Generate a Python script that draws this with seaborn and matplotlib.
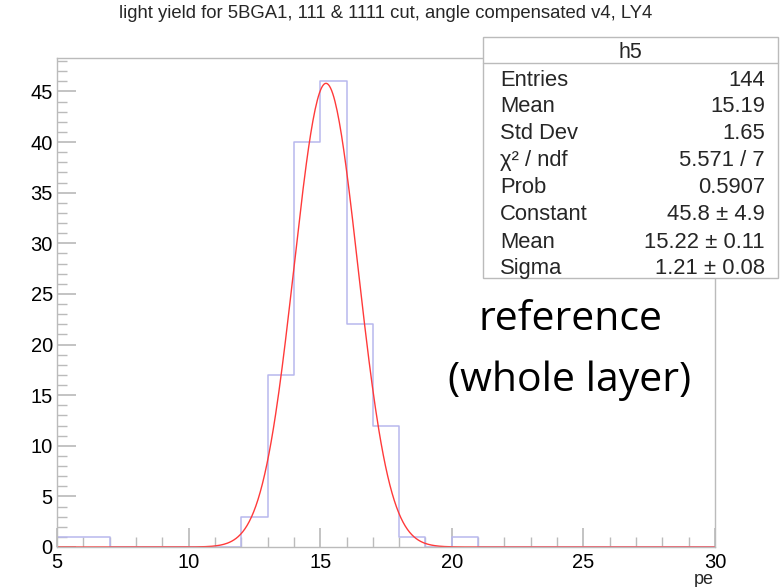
import numpy as np
import pandas as pd
import matplotlib
matplotlib.use("Agg")
import matplotlib.pyplot as plt
import seaborn as sns
from matplotlib.ticker import MultipleLocator

# ---- data ----
bin_edges = list(range(5, 31))
counts = [1, 1, 0, 0, 0, 0, 0, 3, 17, 40, 46, 22, 12, 1, 0, 1,
          0, 0, 0, 0, 0, 0, 0, 0, 0]
fit_constant = 45.8
fit_mean = 15.22
fit_sigma = 1.21
stat_labels = ["Entries", "Mean", "Std Dev", "χ² / ndf", "Prob",
               "Constant", "Mean", "Sigma"]
stat_values = ["144", "15.19", "1.65", "5.571 / 7", "0.5907",
               "45.8 ± 4.9", "15.22 ± 0.11", "1.21 ± 0.08"]
title = "light yield for 5BGA1, 111 & 1111 cut, angle compensated v4, LY4"

sns.set_theme(style="white")
plt.rcParams['font.family'] = ['Liberation Sans', 'DejaVu Sans']

W, H = 781, 587
fig = plt.figure(figsize=(W / 100, H / 100), dpi=100)
ax = fig.add_axes([57 / W, 1 - 547 / H, (715 - 57) / W, (547 - 58) / H])

centers = [(bin_edges[i] + bin_edges[i + 1]) / 2 for i in range(len(counts))]
df = pd.DataFrame({"pe": centers, "n": counts})
sns.histplot(data=df, x="pe", weights="n", bins=bin_edges, element="step",
             fill=False, color="#b8b8ee", linewidth=1.1, ax=ax)

xf = np.linspace(5, 30, 600)
yf = fit_constant * np.exp(-0.5 * ((xf - fit_mean) / fit_sigma) ** 2)
sns.lineplot(x=xf, y=yf, color="#ff3a3a", linewidth=1.0, ax=ax)

ax.set_xlim(5, 30)
ax.set_ylim(0, 48.3)
ax.set_xlabel("")
ax.set_ylabel("")
ax.xaxis.set_major_locator(MultipleLocator(5))
ax.xaxis.set_minor_locator(MultipleLocator(1))
ax.yaxis.set_major_locator(MultipleLocator(5))
ax.yaxis.set_minor_locator(MultipleLocator(1))
ax.tick_params(axis="both", which="major", direction="in", length=14,
               color="#bbbbbb", labelsize=14.5, labelcolor="black")
ax.tick_params(axis="both", which="minor", direction="in", length=7,
               color="#bbbbbb")
ax.tick_params(axis="x", which="both", top=False, bottom=True, pad=4)
ax.tick_params(axis="y", which="both", left=True, right=False, pad=3)
for s in ax.spines.values():
    s.set_color("#bbbbbb")
    s.set_linewidth(1.0)
fig.text(704 / W, 1 - 579 / H, "pe", ha="center", va="center", fontsize=13)

fig.text(386 / W, 1 - 14 / H, title, ha="center", va="center", fontsize=13.3)

# stats box
bx0, bx1, by0, by1, byh = 483, 778, 37, 278, 63
box = plt.Rectangle((bx0 / W, 1 - by1 / H), (bx1 - bx0) / W, (by1 - by0) / H,
                    transform=fig.transFigure, facecolor="white",
                    edgecolor="#bbbbbb", linewidth=1.0, zorder=5)
fig.add_artist(box)
fig.add_artist(plt.Line2D([bx0 / W, bx1 / W], [1 - byh / H, 1 - byh / H],
                          transform=fig.transFigure, color="#bbbbbb",
                          linewidth=1.0, zorder=6))
fig.text((bx0 + bx1) / 2 / W, 1 - 50 / H, "h5", ha="center",
         va="center_baseline", fontsize=15.5, zorder=7)
row_y = [78, 104, 131, 158, 185, 212, 240, 266]
for lab, val, yy in zip(stat_labels, stat_values, row_y):
    fig.text(500 / W, 1 - yy / H, lab, ha="left", va="center_baseline",
             fontsize=15.8, zorder=7)
    fig.text(765 / W, 1 - yy / H, val, ha="right", va="center_baseline",
             fontsize=15.8, zorder=7)

fig.text(570 / W, 1 - 320 / H, "reference", ha="center", va="center",
         fontsize=29.5, family="Open Sans", color="black", zorder=7)
fig.text(570 / W, 1 - 381 / H, "(whole layer)", ha="center", va="center",
         fontsize=29.5, family="Open Sans", color="black", zorder=7)

fig.savefig("out.png", dpi=100)
